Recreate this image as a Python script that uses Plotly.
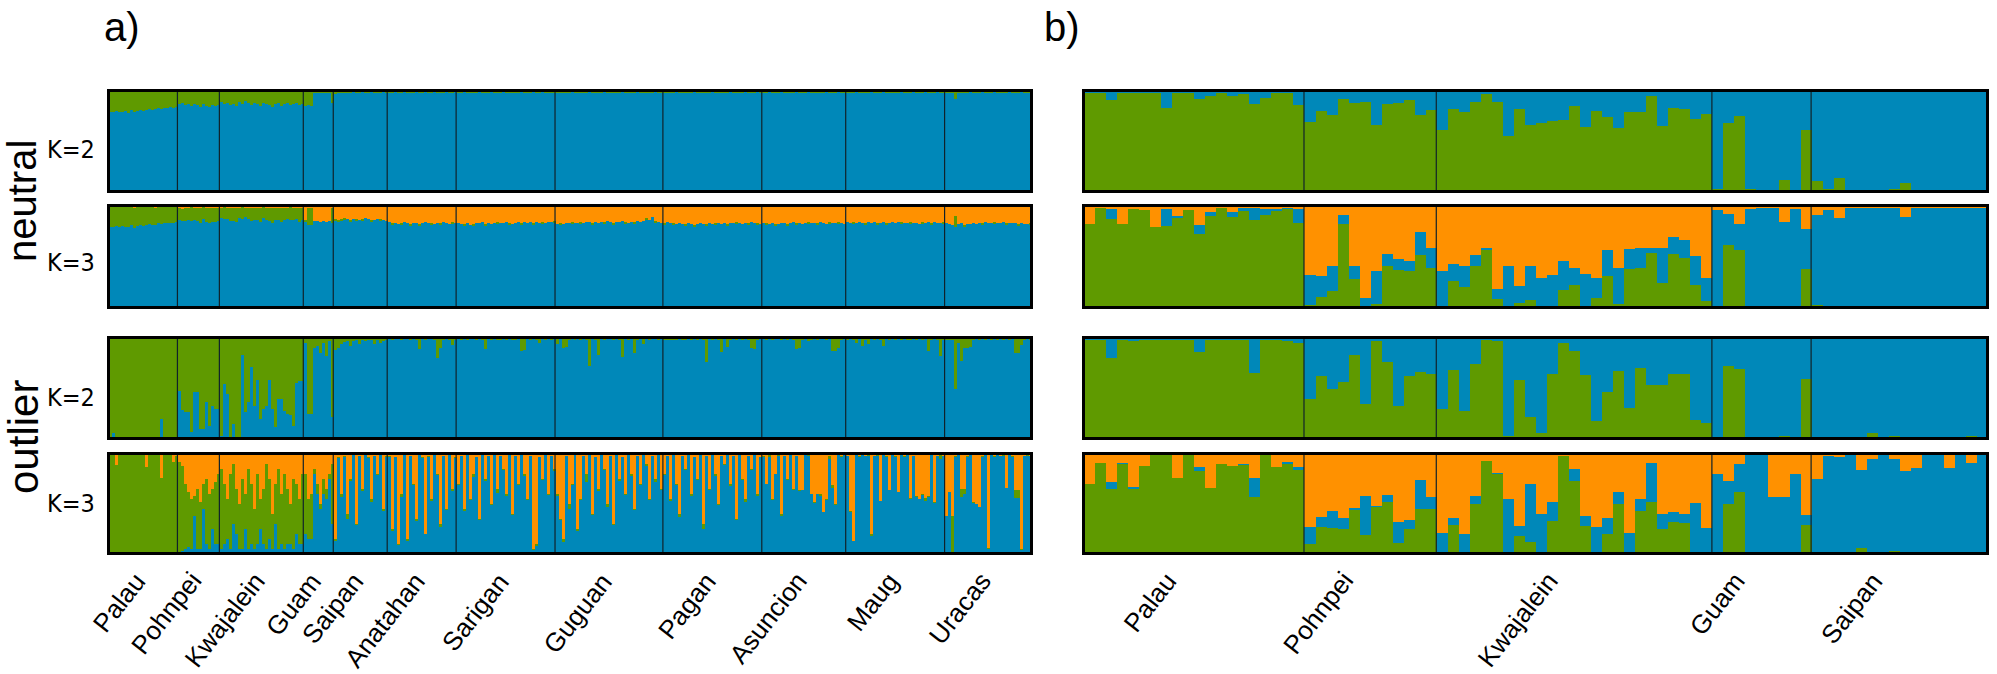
import plotly.graph_objects as go

W, H = 1997, 674
BLUE = "#0088B9"
GREEN = "#5F9A00"
ORANGE = "#FF9100"

# ---------------- panel a: populations ----------------
A_POPS = ["Palau", "Pohnpei", "Kwajalein", "Guam", "Saipan", "Anatahan", "Sarigan",
          "Guguan", "Pagan", "Asuncion", "Maug", "Uracas"]
A_SIZES = [23, 14, 28, 10, 18, 23, 33, 36, 33, 28, 33, 29]

# membership (%) per individual, one sub-list per population
a_neu_k2_green = [
    [21,21,20,21,21,20,22,19,21,20,19,20,19,18,19,18,17,18,17,17,16,17,16],
    [13,12,14,13,15,13,14,16,13,15,16,14,15,14],
    [11,13,12,14,13,15,11,13,10,12,14,12,13,15,12,13,14,16,13,12,15,13,12,14,13,12,14,13],
    [15,14,15,1,1,1,1,1,1,12],
    [3,2,1,1,1,1,0,1,1,0,1,1,0,1,1,1,0,1],
    [1,1,0,1,1,0,1,1,1,0,1,1,0,1,1,0,1,1,1,0,1,1,0],
    [1,1,0,1,1,2,1,0,1,1,1,0,1,1,1,0,1,1,2,1,1,0,1,1,1,0,1,1,0,1,1,2,1],
    [1,1,1,2,1,0,1,1,1,1,2,0,1,1,1,1,0,1,2,1,1,1,0,1,1,1,1,0,1,1,2,1,1,0,1,1],
    [2,1,1,1,0,1,1,2,1,1,0,1,1,1,2,1,0,1,1,1,2,1,0,1,1,1,1,0,1,1,1,0,1],
    [1,1,0,1,1,1,0,1,1,1,1,0,1,1,1,0,1,1,1,2,1,0,1,1,1,0,1,1],
    [1,2,1,0,1,1,1,1,0,1,1,1,0,1,1,1,2,1,0,1,1,1,0,1,1,1,0,1,1,1,0,1,1],
    [1,1,1,8,1,1,1,1,0,1,1,1,0,1,1,1,0,1,1,1,1,0,1,1,1,0,1,1,1],
]
a_neu_k3_green = [
    [21,21,20,21,20,21,21,19,21,20,19,20,19,18,19,18,17,18,17,17,17,17,16],
    [13,12,14,13,15,13,14,16,13,15,16,14,15,14],
    [11,13,12,14,13,15,11,13,10,12,14,12,13,15,12,13,14,16,13,12,15,13,12,14,13,12,14,13],
    [2,18,18,0,0,0,0,0,0,16],
    [1,2,1,1,0,1,0,1,0,1,0,0,1,0,0,1,0,0],
    [0,1,0,0,1,0,0,1,0,0,1,0,0,0,1,0,0,1,0,0,0,1,0],
    [0,0,1,0,0,1,0,0,0,1,0,0,0,1,0,0,0,1,0,0,0,1,0,0,0,1,0,0,1,0,0,0,1],
    [0,1,0,0,0,1,0,0,1,0,0,0,1,0,0,0,1,0,0,1,0,0,0,1,0,0,1,0,0,0,1,0,0,1,0,0],
    [1,0,0,1,0,0,0,1,0,0,1,0,0,0,1,0,0,1,0,0,0,1,0,0,1,0,0,0,1,0,0,1,0],
    [0,1,0,0,1,0,0,0,1,0,0,1,0,0,0,1,0,0,1,0,0,0,1,0,0,1,0,0],
    [0,0,1,0,0,0,1,0,0,0,1,0,0,1,0,0,0,0,1,0,0,1,0,0,0,1,0,0,1,0,0,0,1],
    [0,0,0,11,0,0,1,0,0,0,0,0,1,0,0,0,1,0,0,0,1,0,0,0,1,0,0,0,1],
]
a_neu_k3_orange = [
    [0,0,0,0,0,0,0,0,1,0,0,0,0,0,0,1,0,0,0,0,0,0,0],
    [1,3,1,1,0,1,1,1,0,1,1,2,1,1],
    [1,0,1,1,2,1,1,0,1,1,1,2,1,1,0,1,1,1,1,2,1,1,1,0,1,1,2,1],
    [14,1,1,15,15,16,15,16,15,1],
    [13,14,13,12,13,14,13,13,14,13,12,13,14,14,13,13,14,15],
    [16,17,17,18,17,16,17,18,17,17,18,17,16,17,17,18,17,17,16,17,18,16,17],
    [17,18,18,17,19,18,17,17,16,18,17,18,17,16,17,17,16,17,18,17,16,17,16,17,16,17,16,17,16,17,16,16,15],
    [18,17,18,17,17,16,17,17,16,17,16,16,17,16,17,16,16,15,16,17,16,16,15,16,17,16,16,15,16,15,12,14,11,15,16,17],
    [17,16,17,17,18,17,18,18,17,18,19,18,17,18,18,17,18,17,17,18,17,18,17,17,16,17,18,17,17,16,17,17,18],
    [17,17,18,17,18,18,17,17,18,17,16,17,17,18,17,16,17,17,17,16,17,18,16,17,17,16,17,18],
    [16,17,16,17,16,17,17,16,17,16,17,17,16,17,17,16,17,16,16,17,17,16,17,17,18,16,17,16,17,16,17,17,16],
    [17,18,19,10,18,17,19,18,18,17,18,17,17,16,17,17,16,17,17,16,17,17,17,17,18,17,18,18,17],
]
a_out_k2_green = [
    [100,94,100,100,100,100,100,100,100,99,99,100,100,100,100,100,100,80,100,100,99,100,100],
    [52,71,73,73,93,53,53,90,90,63,87,67,70,70],
    [97,46,55,99,85,99,99,17,73,63,29,67,42,80,70,67,42,70,88,60,60,72,75,76,87,45,43,43],
    [5,75,75,10,8,15,5,18,3,78],
    [12,10,6,4,3,8,3,2,6,2,3,1,2,6,2,5,3,1],
    [0,1,0,0,1,0,0,1,0,1,11,0,1,0,0,1,20,10,1,0,1,7,1],
    [0,1,0,1,0,0,1,0,1,11,0,1,0,1,2,0,1,0,2,1,0,13,12,0,1,0,1,5,0,1,0,1,0],
    [6,0,10,9,1,0,1,0,1,0,1,28,0,1,17,0,1,0,0,1,0,1,19,0,1,0,15,1,0,6,0,1,0,0,1,0],
    [1,2,1,2,1,0,1,1,0,1,0,1,0,1,24,0,1,0,1,14,0,9,1,0,1,0,1,0,1,10,11,1,0],
    [0,1,0,1,0,0,1,0,1,0,1,11,10,1,0,3,1,0,1,0,0,1,0,13,13,10,1,0],
    [1,0,1,5,0,8,1,6,0,1,0,1,8,0,1,0,1,0,1,0,1,1,0,1,0,1,0,13,1,0,1,18,1],
    [1,1,2,50,5,23,10,10,9,1,0,1,0,1,0,1,0,1,0,1,0,1,0,15,15,7,1,0,1],
]
a_out_k3_green = [
    [99,99,89,98,100,99,99,100,99,100,99,100,87,100,99,100,99,75,99,100,99,92,97],
    [90,85,65,55,50,20,60,47,25,65,55,40,62,70],
    [80,60,40,75,60,45,45,70,35,80,60,40,70,30,55,85,60,35,40,80,50,75,55,40,70,50,45,70],
    [60,40,45,5,10,5,15,10,5,60],
    [2,1,3,1,5,2,0,1,0,2,0,1,3,0,1,0,2,1],
    [1,2,0,1,3,0,2,0,1,2,0,1,0,1,2,0,1,3,0,1,0,2,1],
    [1,0,2,0,1,3,0,1,0,2,0,1,0,4,0,1,2,0,1,0,1,0,2,1,0,1,2,0,1,0,1,0,2],
    [2,1,3,0,5,1,0,2,1,0,8,0,1,0,2,0,1,3,0,1,0,2,0,1,0,2,1,0,1,0,2,1,0,3,0,1],
    [1,0,2,0,1,3,0,1,0,2,0,1,0,5,0,1,0,2,1,0,1,0,2,0,1,0,1,3,0,1,0,2,0],
    [1,0,2,1,0,1,2,0,1,0,1,0,1,0,0,1,0,1,0,2,0,1,3,3,1,0,1,0],
    [0,1,0,0,1,0,0,1,2,0,1,0,0,1,0,0,1,0,0,1,0,1,0,1,0,1,3,1,0,1,0,4,0],
    [0,0,37,1,0,8,5,1,0,1,0,0,1,0,1,0,1,0,0,1,0,0,1,8,8,1,0,1,0],
]
a_out_k3_orange = [
    [1,0,11,1,0,0,1,0,1,0,1,0,13,0,1,0,0,24,1,0,1,8,2],
    [8,12,30,38,45,42,35,48,30,25,40,35,28,20],
    [15,30,45,20,10,35,50,25,40,15,30,55,20,45,35,10,25,60,30,15,40,20,35,50,25,30,45,20],
    [20,45,40,15,30,50,25,35,20,10],
    [85,3,40,2,60,25,1,70,2,35,1,3,45,2,20,1,55,2],
    [2,75,3,90,40,1,85,2,30,65,1,3,80,2,45,1,20,70,2,55,1,35,3],
    [30,2,55,1,45,20,3,65,1,25,2,50,1,35,2,15,40,1,60,2,30,1,20,45,2,95,90,3,25,1,40,2,15],
    [40,65,85,2,50,30,1,75,45,2,20,1,60,3,35,1,15,50,2,70,1,25,3,40,1,20,55,2,30,1,10,45,2,25,1,35],
    [20,2,45,1,30,60,2,15,1,40,3,25,1,70,2,35,1,20,50,2,10,1,30,2,65,1,25,45,2,15,1,40,3],
    [2,30,1,45,20,1,60,2,25,1,35,2,36,36,1,1,40,48,40,40,58,45,2,31,50,1,2,1],
    [2,57,87,1,2,1,2,1,80,2,1,47,1,2,36,1,2,38,1,2,1,44,2,42,45,40,44,42,1,48,2,1,2],
    [62,38,62,2,1,35,35,2,1,48,50,53,2,1,94,1,2,1,2,1,34,1,2,36,36,95,2,1,2],
]

# ---------------- panel b: populations ----------------
B_POPS = ["Palau", "Pohnpei", "Kwajalein", "Guam", "Saipan"]
B_SIZES = [20, 12, 25, 9, 16]

b_neu_k2_green = [
    [99,99,91,99,99,99,99,83,98,99,92,95,98,95,97,87,93,99,99,86],
    [69,80,76,92,88,89,66,87,88,91,76,81],
    [61,82,79,89,97,89,55,82,66,68,70,71,85,64,80,74,63,79,79,95,65,83,82,72,77],
    [3,68,75,3,2,2,12,2,61],
    [11,3,14,2,1,2,1,3,9,1,1,1,1,1,1,2],
]
b_neu_k3_green = [
    [82,98,87,82,97,96,79,80,88,96,73,90,98,89,95,86,91,96,98,83],
    [3,11,17,82,28,2,4,41,37,36,52,39],
    [1,26,21,41,57,9,1,5,8,1,2,18,23,1,10,31,4,38,39,54,25,53,49,23,7],
    [1,62,57,1,1,1,1,1,38],
    [3,2,2,1,1,1,0,1,2,1,1,1,1,1,1,1],
]
b_neu_k3_orange = [
    [18,2,3,18,3,4,21,3,10,4,19,6,2,6,2,1,3,3,1,3],
    [68,69,59,9,59,90,64,47,52,54,25,41],
    [64,57,59,48,41,81,59,78,59,71,68,54,61,67,71,43,61,42,41,41,41,30,33,49,71],
    [4,8,18,3,2,1,16,3,23],
    [9,4,12,1,1,2,1,2,11,1,2,1,2,1,2,1],
]
b_out_k2_green = [
    [99,99,80,98,97,99,99,99,99,99,86,98,99,99,99,65,99,99,97,95],
    [40,62,50,56,83,35,97,76,33,62,66,64],
    [30,68,28,74,99,97,3,58,22,6,64,95,87,63,18,47,67,31,70,53,53,64,64,19,16],
    [0,72,69,2,0,0,3,0,59],
    [1,0,0,0,0,6,0,3,0,1,0,0,0,1,3,0],
]
b_out_k3_green = [
    [70,91,65,90,65,88,99,99,76,99,83,66,90,88,89,57,99,87,90,84],
    [10,27,26,25,44,19,47,52,11,25,45,45],
    [1,29,0,50,93,80,1,18,12,1,33,98,73,28,0,20,50,0,43,52,25,32,31,0,0],
    [0,50,62,0,0,0,1,0,29],
    [0,0,0,0,6,0,0,3,0,0,0,0,0,0,2,0],
]
b_out_k3_orange = [
    [30,9,28,9,33,12,1,1,24,1,13,34,10,12,10,24,1,13,8,13],
    [73,63,57,64,54,42,52,41,68,66,26,43],
    [79,64,80,42,7,19,45,72,30,60,48,2,15,62,73,64,38,79,45,9,60,58,60,49,74],
    [20,27,10,1,1,43,43,20,61],
    [25,2,3,1,16,5,1,5,17,14,1,1,14,1,9,1],
]

ROW_LABELS = ["K=2", "K=3", "K=2", "K=3"]
GROUP_LABELS = ["neutral", "outlier"]
PANEL_TAGS = ["a)", "b)"]


def flat(lists, sizes, name):
    out = []
    for lst, n, in zip(lists, sizes):
        if len(lst) != n:
            raise ValueError(f"{name}: population of size {n} got {len(lst)}")
        out.extend(lst)
    return out


# geometry in pixels (outer edge of frames)
ROWS_PX = [(89, 193), (204, 309), (336, 440), (452, 555)]
PANEL_X_PX = {"a": (107, 1033), "b": (1082, 1989)}
FRAME_W = 3

fig = go.Figure()
shapes = []
annotations = []


def px_x(p):
    return p / W


def px_y(p):
    return 1 - p / H


panels = {
    "a": dict(sizes=A_SIZES, pops=A_POPS, rows=[
        ("k2", flat(a_neu_k2_green, A_SIZES, "a1"), None),
        ("k3", flat(a_neu_k3_green, A_SIZES, "a2g"), flat(a_neu_k3_orange, A_SIZES, "a2o")),
        ("k2", flat(a_out_k2_green, A_SIZES, "a3"), None),
        ("k3", flat(a_out_k3_green, A_SIZES, "a4g"), flat(a_out_k3_orange, A_SIZES, "a4o")),
    ]),
    "b": dict(sizes=B_SIZES, pops=B_POPS, rows=[
        ("k2", flat(b_neu_k2_green, B_SIZES, "b1"), None),
        ("k3", flat(b_neu_k3_green, B_SIZES, "b2g"), flat(b_neu_k3_orange, B_SIZES, "b2o")),
        ("k2", flat(b_out_k2_green, B_SIZES, "b3"), None),
        ("k3", flat(b_out_k3_green, B_SIZES, "b4g"), flat(b_out_k3_orange, B_SIZES, "b4o")),
    ]),
}

layout_axes = {}
k = 0
label_axis = {}
for pkey in ["a", "b"]:
    P = panels[pkey]
    n = sum(P["sizes"])
    idx = list(range(n))
    x0p, x1p = PANEL_X_PX[pkey]
    for r, (kind, green, orange) in enumerate(P["rows"]):
        k += 1
        xa = "x" if k == 1 else f"x{k}"
        ya = "y" if k == 1 else f"y{k}"
        xname = "xaxis" if k == 1 else f"xaxis{k}"
        yname = "yaxis" if k == 1 else f"yaxis{k}"
        y0p, y1p = ROWS_PX[r]
        inset = FRAME_W / 2
        layout_axes[xname] = dict(domain=[px_x(x0p + inset), px_x(x1p - inset)],
                                  range=[-0.5, n - 0.5], visible=False,
                                  anchor=ya, fixedrange=True)
        layout_axes[yname] = dict(domain=[px_y(y1p - inset), px_y(y0p + inset)],
                                  range=[0, 100], visible=False,
                                  anchor=xa, fixedrange=True)
        if orange is None:
            blue = [max(0, 100 - g) for g in green]
            stack = [(blue, BLUE), (green, GREEN)] if pkey == "a" else [(green, GREEN), (blue, BLUE)]
        else:
            blue = [max(0, 100 - g - o) for g, o in zip(green, orange)]
            if pkey == "a":
                stack = [(blue, BLUE), (green, GREEN), (orange, ORANGE)]
            else:
                stack = [(green, GREEN), (blue, BLUE), (orange, ORANGE)]
        for vals, col in stack:
            fig.add_trace(go.Bar(x=idx, y=vals, width=1, xaxis=xa, yaxis=ya,
                                 marker=dict(color=col, line=dict(width=0)),
                                 showlegend=False, hoverinfo="skip"))
        # population separators
        pos = -0.5
        for s in P["sizes"][:-1]:
            pos += s
            shapes.append(dict(type="line", xref=xa, yref=f"{ya} domain",
                               x0=pos, x1=pos, y0=0, y1=1,
                               line=dict(color="#10222a", width=1.2)))
        # frame
        shapes.append(dict(type="rect", xref=f"{xa} domain", yref=f"{ya} domain",
                           x0=0, x1=1, y0=0, y1=1,
                           line=dict(color="black", width=FRAME_W)))
        label_axis[pkey] = xa

# population labels (rotated)
LABEL_TOP_PX = 564
for pkey, shift in [("a", 12), ("b", -8)]:
    P = panels[pkey]
    start = 0
    for name, s in zip(P["pops"], P["sizes"]):
        centre = start + (s - 1) / 2
        start += s
        annotations.append(dict(text=name, xref=label_axis[pkey], yref="paper",
                                x=centre, y=px_y(LABEL_TOP_PX), xshift=shift,
                                xanchor="right", yanchor="top", textangle=-52,
                                showarrow=False,
                                font=dict(family="Liberation Sans, Arial, sans-serif",
                                          size=26, color="black")))

# K labels
for r, lab in enumerate(ROW_LABELS):
    ycen = [149, 262, 397, 504][r]
    annotations.append(dict(text=lab, xref="paper", yref="paper",
                            x=px_x(71), y=px_y(ycen), xanchor="center", yanchor="middle",
                            showarrow=False,
                            font=dict(family="Liberation Sans Narrow, DejaVu Sans Condensed, Arial Narrow, sans-serif",
                                      size=25, color="black")))

# group labels
for lab, ycen, size, xc in [(GROUP_LABELS[0], 201, 40, 22), (GROUP_LABELS[1], 437, 42, 23)]:
    annotations.append(dict(text=lab, xref="paper", yref="paper",
                            x=px_x(xc), y=px_y(ycen), xanchor="center", yanchor="middle",
                            textangle=-90, showarrow=False,
                            font=dict(family="Liberation Sans, Arial, sans-serif",
                                      size=size, color="black")))

# panel tags
for lab, xc in zip(PANEL_TAGS, [122, 1062]):
    annotations.append(dict(text=lab, xref="paper", yref="paper",
                            x=px_x(xc), y=px_y(27), xanchor="center", yanchor="middle",
                            showarrow=False,
                            font=dict(family="Liberation Sans, Arial, sans-serif",
                                      size=40, color="black")))

fig.update_layout(width=W, height=H, margin=dict(l=0, r=0, t=0, b=0),
                  paper_bgcolor="white", plot_bgcolor="white",
                  barmode="stack", bargap=0,
                  shapes=shapes, annotations=annotations, **layout_axes)

fig.write_html("out.html", config={"displayModeBar": False},
               post_script="document.body.style.margin='0px';"
                           "document.body.style.padding='0px';"
                           "document.body.style.overflow='hidden';")
